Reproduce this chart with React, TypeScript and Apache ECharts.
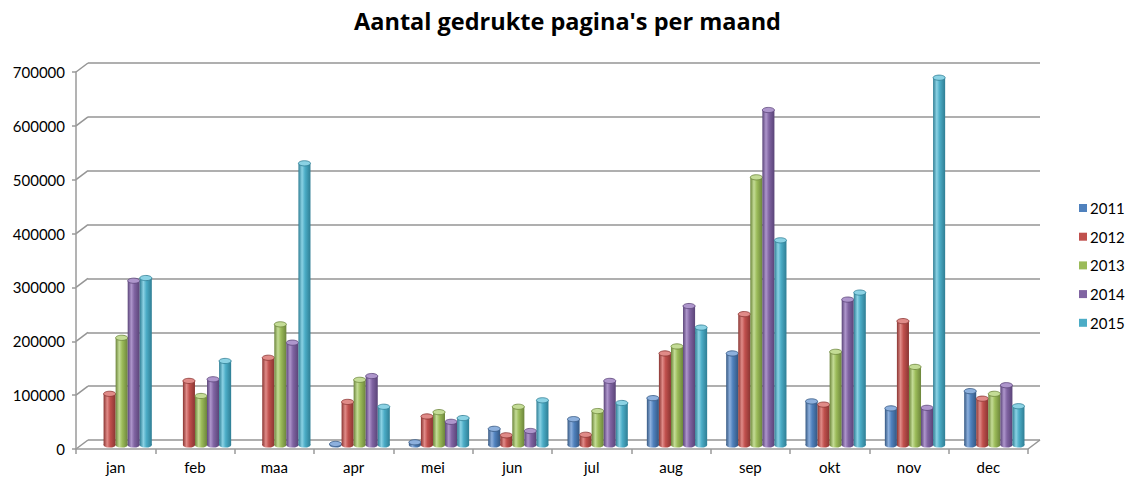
import React, { useEffect, useRef } from "react";
import * as echarts from "echarts";

const months = ["jan", "feb", "maa", "apr", "mei", "jun", "jul", "aug", "sep", "okt", "nov", "dec"];
const years = ["2011", "2012", "2013", "2014", "2015"];
const v2011 = [0, 0, 0, 2000, 5000, 30000, 48000, 87000, 170000, 81000, 68000, 100000];
const v2012 = [95000, 119000, 162000, 80000, 53000, 18000, 19000, 170000, 243000, 75000, 230000, 86000];
const v2013 = [199000, 91000, 224000, 121000, 61000, 71000, 63000, 183000, 497000, 173000, 145000, 95000];
const v2014 = [305000, 122000, 190000, 128000, 43000, 26000, 119000, 258000, 622000, 270000, 69000, 111000];
const v2015 = [310000, 156000, 523000, 71000, 50000, 83000, 78000, 218000, 380000, 283000, 682000, 72000];
const seriesValues = [v2011, v2012, v2013, v2014, v2015];
const yTicks = [0, 100000, 200000, 300000, 400000, 500000, 600000, 700000];

const baseColors = ["#4F81BD", "#C0504D", "#9BBB59", "#8064A2", "#4BACC6"];
const darkColors = ["#345782", "#8A3532", "#6C853B", "#5A4478", "#2F7E94"];
const lightColors = ["#8DB0DD", "#E08B88", "#C4DC96", "#AE96CC", "#8BD2E4"];

const FONT = "Lato, 'Liberation Sans', sans-serif";
const DX = 6; // half depth offset
const DY = 4;

function grad(i: number) {
  return new echarts.graphic.LinearGradient(0, 0, 1, 0, [
    { offset: 0, color: darkColors[i] },
    { offset: 0.3, color: lightColors[i] },
    { offset: 0.55, color: baseColors[i] },
    { offset: 1, color: darkColors[i] },
  ]);
}

export default function App() {
  const ref = useRef<HTMLDivElement>(null);
  useEffect(() => {
    if (!ref.current) return;
    const chart = echarts.init(ref.current, null, { renderer: "svg" });
    const series: any[] = years.map((y, si) => ({
      type: "custom",
      name: y,
      xAxisIndex: 0,
      yAxisIndex: 0,
      itemStyle: { color: baseColors[si] },
      data: seriesValues[si].map((v, ci) => [ci, v]),
      renderItem: (params: any, api: any) => {
        const ci = api.value(0);
        const v = api.value(1);
        if (!(v > 0)) return null;
        const band = api.size([1, 0])[0];
        const w = band * 0.152;
        const top = api.coord([ci, v]);
        const base = api.coord([ci, 0]);
        const cx = top[0] + DX + (si - 2) * w;
        const ty = top[1] - DY;
        const by = base[1] - DY;
        const ry = 2.6;
        const g = grad(si);
        return {
          type: "group",
          children: [
            { type: "ellipse", shape: { cx, cy: by, rx: w / 2, ry }, style: { fill: g } },
            { type: "rect", shape: { x: cx - w / 2, y: ty, width: w, height: Math.max(0, by - ty) }, style: { fill: g } },
            {
              type: "ellipse",
              shape: { cx, cy: ty, rx: w / 2, ry },
              style: { fill: lightColors[si], stroke: darkColors[si], lineWidth: 0.8 },
            },
          ],
        };
      },
    }));
    const option: any = {
      animation: false,
      backgroundColor: "#ffffff",
      title: {
        text: "Aantal gedrukte pagina's per maand",
        left: "center",
        top: 4,
        textStyle: { fontFamily: "'Open Sans', Lato, sans-serif", fontSize: 23.5, fontWeight: "bold", color: "#000" },
      },
      legend: {
        orient: "vertical",
        left: 1074,
        top: 195,
        itemWidth: 8,
        itemHeight: 8,
        itemGap: 12.7,
        icon: "rect",
        data: years.map((y, i) => ({ name: y, itemStyle: { color: baseColors[i] } })),
        textStyle: { fontFamily: FONT, fontSize: 15, color: "#000", lineHeight: 16, padding: [0, 0, 0, -2] },
      },
      grid: [
        { left: 76, right: 107, top: 72, bottom: 29 },
        { left: 88, right: 95, top: 63, bottom: 38 },
      ],
      xAxis: [
        {
          type: "category",
          gridIndex: 0,
          data: months,
          boundaryGap: true,
          axisLine: { show: true, lineStyle: { color: "#9a9a9a", width: 1.5 } },
          axisTick: { show: true, length: 5, lineStyle: { color: "#9a9a9a", width: 1.5 } },
          axisLabel: { fontFamily: FONT, fontSize: 15, color: "#000", margin: 10 },
          splitLine: { show: false },
        },
        {
          type: "category",
          gridIndex: 1,
          data: months,
          show: false,
        },
      ],
      yAxis: [
        {
          type: "value",
          gridIndex: 0,
          min: 0,
          max: 700000,
          interval: 100000,
          axisLine: { show: true, lineStyle: { color: "#9a9a9a", width: 1.5 } },
          axisTick: { show: true, length: 4, lineStyle: { color: "#9a9a9a", width: 1.5 } },
          axisLabel: {
            fontFamily: FONT,
            fontSize: 15,
            color: "#000",
            margin: 11,
            formatter: (val: number) => String(val),
          },
          splitLine: { show: false },
        },
        {
          type: "value",
          gridIndex: 1,
          min: 0,
          max: 700000,
          interval: 100000,
          axisLine: { show: false },
          axisTick: { show: false },
          axisLabel: { show: false },
          splitLine: { show: true, lineStyle: { color: "#959595", width: 1.5 } },
        },
      ],
      series,
    };
    chart.setOption(option);

    // 3D wall/floor connectors computed from the axes
    const lines: any[] = [];
    const lineStyle = { stroke: "#959595", lineWidth: 1.5 };
    const fx0 = chart.convertToPixel({ xAxisIndex: 0 }, 0) as number;
    const bx0 = chart.convertToPixel({ xAxisIndex: 1 }, 0) as number;
    const band = (chart.convertToPixel({ xAxisIndex: 0 }, 1) as number) - fx0;
    yTicks.forEach((t) => {
      const fy = chart.convertToPixel({ yAxisIndex: 0 }, t) as number;
      const by = chart.convertToPixel({ yAxisIndex: 1 }, t) as number;
      lines.push({
        type: "line",
        shape: { x1: fx0 - band / 2, y1: fy, x2: bx0 - band / 2, y2: by },
        style: lineStyle,
        silent: true,
      });
    });
    const n = months.length - 1;
    const fxr = chart.convertToPixel({ xAxisIndex: 0 }, n) as number;
    const bxr = chart.convertToPixel({ xAxisIndex: 1 }, n) as number;
    const fy0 = chart.convertToPixel({ yAxisIndex: 0 }, 0) as number;
    const by0 = chart.convertToPixel({ yAxisIndex: 1 }, 0) as number;
    lines.push({
      type: "line",
      shape: { x1: fxr + band / 2, y1: fy0, x2: bxr + band / 2, y2: by0 },
      style: lineStyle,
      silent: true,
    });
    chart.setOption({ graphic: lines });

    return () => chart.dispose();
  }, []);
  return <div ref={ref} style={{ position: "fixed", left: 0, top: 0, width: 1135, height: 478 }} />;
}
